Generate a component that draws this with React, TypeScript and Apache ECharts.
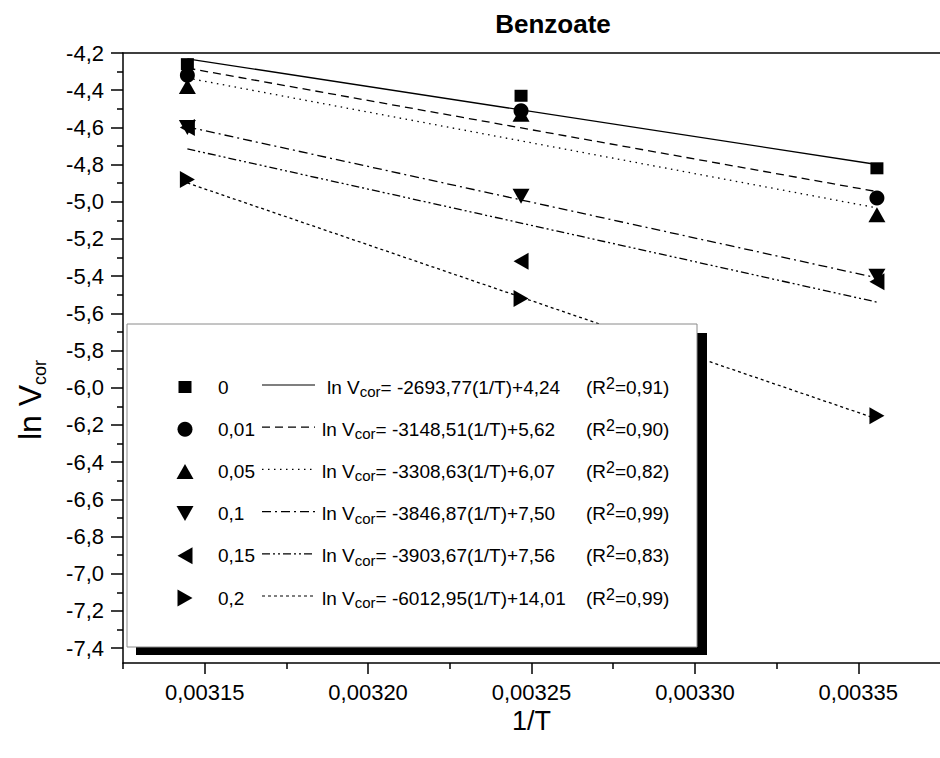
import React, { useEffect, useRef } from 'react';
import * as echarts from 'echarts';

// 1/T values (K^-1) for the three temperatures
const invT = [0.0031447, 0.0032468, 0.0033557];

// series (concentration) labels
const concLabels = ['0', '0,01', '0,05', '0,1', '0,15', '0,2'];

const lnV_0 = [-4.26, -4.43, -4.82];
const lnV_001 = [-4.32, -4.51, -4.98];
const lnV_005 = [-4.38, -4.53, -5.07];
const lnV_01 = [-4.6, -4.97, -5.4];
const lnV_015 = [-4.6, -5.32, -5.43];
const lnV_02 = [-4.88, -5.52, -6.15];
const measured = [lnV_0, lnV_001, lnV_005, lnV_01, lnV_015, lnV_02];

// linear fits printed in the legend
const slopes = [-2693.77, -3148.51, -3308.63, -3846.87, -3903.67, -6012.95];
const intercepts = [4.24, 5.62, 6.07, 7.5, 7.56, 14.01];
const slopeLabels = ['-2693,77', '-3148,51', '-3308,63', '-3846,87', '-3903,67', '-6012,95'];
const interceptLabels = ['4,24', '5,62', '6,07', '7,50', '7,56', '14,01'];
const r2Labels = ['0,91', '0,90', '0,82', '0,99', '0,83', '0,99'];

// axis ticks
const xMajorTicks = [0.00315, 0.0032, 0.00325, 0.0033, 0.00335];
const xMinorTicks = [0.003125, 0.003175, 0.003225, 0.003275, 0.003325];
const yMajorTicks = [-7.4, -7.2, -7.0, -6.8, -6.6, -6.4, -6.2, -6.0, -5.8, -5.6, -5.4, -5.2, -5.0, -4.8, -4.6, -4.4, -4.2];
const yMinorTicks = [-7.3, -7.1, -6.9, -6.7, -6.5, -6.3, -6.1, -5.9, -5.7, -5.5, -5.3, -5.1, -4.9, -4.7, -4.5, -4.3];

const symbols = [
  'rect',
  'circle',
  'triangle',
  'path://M0,0L10,0L5,10Z',
  'path://M10,0L0,5L10,10Z',
  'path://M0,0L10,5L0,10Z',
];
const symbolSizes = [[13, 12], [15, 15], [17, 15], [17, 15], [15, 17], [15, 17]];
const dashes: any[] = ['solid', [8, 5], [1.5, 4.5], [9, 4, 2, 4], [8, 3, 2, 3, 2, 3], [3, 3]];

const FONT = '"Liberation Sans", Arial, sans-serif';

function legendMarker(i: number, cx: number, cy: number): any {
  const style = { fill: '#000' };
  if (i === 0) return { type: 'rect', shape: { x: cx - 6.5, y: cy - 6, width: 13, height: 12 }, style };
  if (i === 1) return { type: 'circle', shape: { cx, cy, r: 7.5 }, style };
  if (i === 2) return { type: 'polygon', shape: { points: [[cx - 8.5, cy + 7.5], [cx + 8.5, cy + 7.5], [cx, cy - 7.5]] }, style };
  if (i === 3) return { type: 'polygon', shape: { points: [[cx - 8.5, cy - 7.5], [cx + 8.5, cy - 7.5], [cx, cy + 7.5]] }, style };
  if (i === 4) return { type: 'polygon', shape: { points: [[cx + 7.5, cy - 8.5], [cx + 7.5, cy + 8.5], [cx - 7.5, cy]] }, style };
  return { type: 'polygon', shape: { points: [[cx - 7.5, cy - 8.5], [cx - 7.5, cy + 8.5], [cx + 7.5, cy]] }, style };
}

export default function App() {
  const ref = useRef<HTMLDivElement>(null);

  useEffect(() => {
    if (!ref.current) return;
    const chart = echarts.init(ref.current, null, { renderer: 'svg' });

    const series: any[] = [];
    measured.forEach((vals, i) => {
      const x0 = invT[0];
      const x1 = invT[invT.length - 1];
      series.push({
        name: 'fit ' + concLabels[i],
        type: 'line',
        xAxisIndex: 0,
        yAxisIndex: 0,
        data: [
          [x0, slopes[i] * x0 + intercepts[i]],
          [x1, slopes[i] * x1 + intercepts[i]],
        ],
        showSymbol: false,
        symbol: 'none',
        lineStyle: { color: '#000', width: 1.3, type: dashes[i], opacity: 1 },
        z: 2,
        silent: true,
      });
      series.push({
        name: concLabels[i],
        type: 'scatter',
        xAxisIndex: 0,
        yAxisIndex: 0,
        data: vals.map((v, k) => [invT[k], v]),
        symbol: symbols[i],
        symbolSize: symbolSizes[i],
        itemStyle: { color: '#000', opacity: 1 },
        z: 3,
      });
    });

    const rowY0 = 387;
    const rowStep = 42.2;
    const legendEls: any[] = [
      { type: 'rect', shape: { x: 136, y: 333, width: 571, height: 322 }, style: { fill: '#000' }, z: 10 },
      { type: 'rect', shape: { x: 127, y: 324, width: 570, height: 323 }, style: { fill: '#fff', stroke: '#8a8a8a', lineWidth: 1 }, z: 11 },
    ];
    concLabels.forEach((lab, i) => {
      const cy = rowY0 + rowStep * i;
      legendEls.push({ ...legendMarker(i, 185, cy), z: 12 });
      legendEls.push({
        type: 'text', x: 218, y: cy, z: 12,
        style: { text: lab, font: `19px ${FONT}`, fill: '#000', verticalAlign: 'middle', align: 'left' },
      });
      legendEls.push({
        type: 'line', z: 12,
        shape: { x1: 262, y1: cy - 2, x2: 315, y2: cy - 2 },
        style: { stroke: '#000', lineWidth: 1.2, lineDash: dashes[i] === 'solid' ? null : dashes[i] },
      });
      legendEls.push({
        type: 'text', x: i === 0 ? 327 : 322, y: cy, z: 12,
        style: {
          text: `{t|ln V}{s|cor}{t|= ${slopeLabels[i]}(1/T)+${interceptLabels[i]}}`,
          verticalAlign: 'middle', align: 'left',
          rich: {
            t: { fontSize: 19, fontFamily: FONT, fill: '#000', lineHeight: 24 },
            s: { fontSize: 15, fontFamily: FONT, fill: '#000', lineHeight: 24, verticalAlign: 'bottom', padding: [13, 0, 0, 0] },
          },
        },
      });
      legendEls.push({
        type: 'text', x: 586, y: cy, z: 12,
        style: {
          text: `{t|(R}{p|2}{t|=${r2Labels[i]})}`,
          verticalAlign: 'middle', align: 'left',
          rich: {
            t: { fontSize: 19, fontFamily: FONT, fill: '#000', lineHeight: 24 },
            p: { fontSize: 16, fontFamily: FONT, fill: '#000', lineHeight: 24, verticalAlign: 'top', padding: [0, 0, 12, 0] },
          },
        },
      });
    });

    // y axis title (rotated, with subscript)
    legendEls.push({
      type: 'text', x: 30, y: 400, rotation: Math.PI / 2, z: 12,
      style: {
        text: '{a|ln V}{b|cor}',
        align: 'center', verticalAlign: 'middle',
        rich: {
          a: { fontSize: 32, fontFamily: FONT, fill: '#000', lineHeight: 38 },
          b: { fontSize: 18, fontFamily: FONT, fill: '#000', lineHeight: 38, verticalAlign: 'bottom', padding: [16, 0, 0, 0] },
        },
      },
    });

    const option: any = {
      animation: false,
      backgroundColor: '#fff',
      textStyle: { fontFamily: FONT },
      title: {
        text: 'Benzoate',
        left: 548,
        top: 6,
        textAlign: 'center',
        textStyle: { fontFamily: FONT, fontSize: 26, fontWeight: 'bold', color: '#000' },
      },
      grid: { left: 123, top: 53, right: -9, bottom: 95, containLabel: false },
      xAxis: [
        {
          type: 'value', position: 'bottom', min: 0.003125, max: 0.003375,
          axisLine: { onZero: false, lineStyle: { color: '#000', width: 1.5 } },
          axisTick: { show: true, customValues: xMajorTicks, length: 11, lineStyle: { color: '#000', width: 1.5 } },
          axisLabel: {
            customValues: xMajorTicks, margin: 18, color: '#000', fontSize: 22, fontFamily: FONT,
            formatter: (v: number) => v.toFixed(5).replace('.', ','),
          },
          splitLine: { show: false },
          name: '1/T', nameLocation: 'middle', nameGap: 44,
          nameTextStyle: { fontSize: 27, color: '#000', fontFamily: FONT },
        },
        {
          type: 'value', position: 'bottom', min: 0.003125, max: 0.003375,
          axisLine: { show: false, onZero: false },
          axisTick: { show: true, customValues: xMinorTicks, length: 6, lineStyle: { color: '#000', width: 1.5 } },
          axisLabel: { show: false },
          splitLine: { show: false },
        },
        {
          type: 'value', position: 'top', min: 0.003125, max: 0.003375,
          axisLine: { show: true, onZero: false, lineStyle: { color: '#000', width: 1.5 } },
          axisTick: { show: false },
          axisLabel: { show: false },
          splitLine: { show: false },
        },
      ],
      yAxis: [
        {
          type: 'value', position: 'left', min: -7.48, max: -4.2,
          axisLine: { show: true, onZero: false, lineStyle: { color: '#000', width: 1.5 } },
          axisTick: { show: true, customValues: yMajorTicks, length: 12, lineStyle: { color: '#000', width: 1.5 } },
          axisLabel: {
            customValues: yMajorTicks, margin: 19, color: '#000', fontSize: 22, fontFamily: FONT,
            formatter: (v: number) => v.toFixed(1).replace('.', ','),
          },
          splitLine: { show: false },
        },
        {
          type: 'value', position: 'left', min: -7.48, max: -4.2,
          axisLine: { show: false, onZero: false },
          axisTick: { show: true, customValues: yMinorTicks, length: 6, lineStyle: { color: '#000', width: 1.5 } },
          axisLabel: { show: false },
          splitLine: { show: false },
        },
      ],
      series,
      graphic: legendEls,
    };

    chart.setOption(option);
    return () => chart.dispose();
  }, []);

  return (
    <div
      ref={ref}
      style={{ position: 'absolute', left: 0, top: 0, width: 940, height: 758, overflow: 'hidden', background: '#fff' }}
    />
  );
}
